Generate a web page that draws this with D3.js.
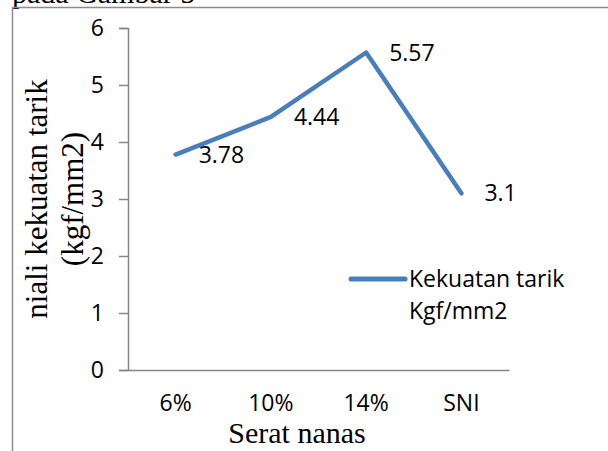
<!DOCTYPE html>
<html>
<head>
<meta charset="utf-8">
<script src="https://cdn.jsdelivr.net/npm/d3@7"></script>
<style>
  body { margin: 0; background: #fff; }
  svg { display: block; }
</style>
</head>
<body>
<div id="chart"></div>
<script>
let categories = ["6%", "10%", "14%", "SNI"]
let values = [3.78, 4.44, 5.57, 3.1]
let yTicks = [0, 1, 2, 3, 4, 5, 6]
let seriesName = ["Kekuatan tarik", "Kgf/mm2"]
let yTitle = ["niali kekuatan tarik", "(kgf/mm2)"]
let xTitle = "Serat nanas"

let width = 608
let height = 451

let margin = { top: 28, right: 99, bottom: 81, left: 128 }

let svg = d3.select("#chart")
  .append("svg")
  .attr("width", width)
  .attr("height", height)

// bit of the document caption cut off above the chart
svg.append("text")
  .attr("x", 12)
  .attr("y", 3)
  .style("font", "30px 'Liberation Serif', serif")
  .text("pada Gambar 5")

// chart frame (runs off the right and bottom)
svg.append("path")
  .attr("d", `M12.5,${height + 5}V7.5H${width + 5}`)
  .attr("fill", "none")
  .attr("stroke", "#8c8c8c")
  .attr("stroke-width", 1.5)

let x = d3.scaleBand()
  .domain(categories)
  .range([margin.left, width - margin.right])

let y = d3.scaleLinear()
  .domain([0, 6])
  .range([height - margin.bottom, margin.top])

let yAxis = g => g
  .attr("transform", `translate(${margin.left},0)`)
  .call(d3.axisLeft(y).tickValues(yTicks).tickFormat(d3.format("d")).tickSize(9).tickPadding(15))
  .call(g => g.selectAll("path, line").attr("stroke", "#868686").attr("stroke-width", 1.5))
  .call(g => g.selectAll("text")
    .attr("fill", "#000")
    .style("font", "23px 'Open Sans', sans-serif"))

let xAxis = g => g
  .attr("transform", `translate(0,${height - margin.bottom})`)
  .call(d3.axisBottom(x).tickSize(0).tickSizeOuter(0).tickPadding(25))
  .call(g => g.selectAll("path").attr("stroke", "#868686").attr("stroke-width", 1.5))
  .call(g => g.selectAll("text")
    .attr("fill", "#000")
    .style("font", "23px 'Open Sans', sans-serif"))

svg.append("g").call(xAxis)
svg.append("g").call(yAxis)

let line = d3.line()
  .x((d, i) => x(categories[i]) + x.bandwidth() / 2)
  .y(d => y(d))

svg.append("path")
  .datum(values)
  .attr("d", line)
  .attr("fill", "none")
  .attr("stroke", "#4a7ebb")
  .attr("stroke-width", 4.5)
  .attr("stroke-linejoin", "round")
  .attr("stroke-linecap", "round")

svg.append("g")
  .style("font", "23px 'Open Sans', sans-serif")
  .selectAll("text")
  .data(values)
  .enter().append("text")
    .attr("x", (d, i) => x(categories[i]) + x.bandwidth() / 2 + 23)
    .attr("y", d => y(d))
    .attr("dy", "0.35em")
    .text(d => d)

// legend
let legend = svg.append("g")
legend.append("line")
  .attr("x1", 351).attr("x2", 405)
  .attr("y1", 279).attr("y2", 279)
  .attr("stroke", "#4a7ebb")
  .attr("stroke-width", 5)
  .attr("stroke-linecap", "round")
legend.append("g")
  .style("font", "23px 'Open Sans', sans-serif")
  .selectAll("text")
  .data(seriesName)
  .enter().append("text")
    .attr("x", 409)
    .attr("y", (d, i) => 287 + i * 32)
    .text(d => d)

// axis titles
svg.append("g")
  .attr("transform", `translate(0,${(margin.top + height - margin.bottom) / 2}) rotate(-90)`)
  .style("font", "31px 'Liberation Serif', serif")
  .attr("text-anchor", "middle")
  .selectAll("text")
  .data(yTitle)
  .enter().append("text")
    .attr("x", 0)
    .attr("y", (d, i) => 47 + i * 36)
    .text(d => d)

svg.append("text")
  .attr("x", 297)
  .attr("y", 443)
  .attr("text-anchor", "middle")
  .style("font", "30px 'Liberation Serif', serif")
  .text(xTitle)
</script>
</body>
</html>
